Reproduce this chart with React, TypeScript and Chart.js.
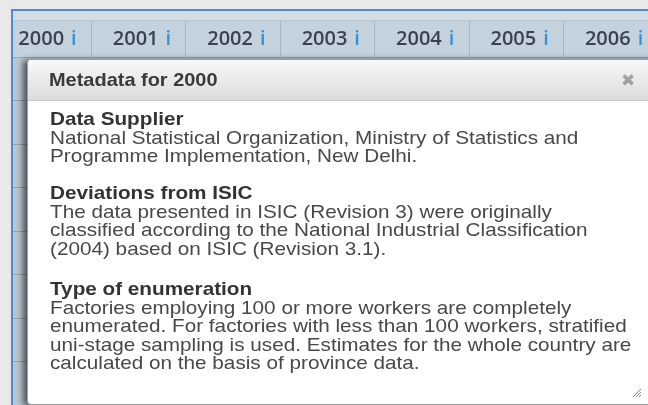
import React, { useEffect, useRef } from "react";
import { Chart, registerables } from "chart.js";

Chart.register(...registerables);

// ---- data ----
const years = ["2000", "2001", "2002", "2003", "2004", "2005", "2006"];
const infoMark = "i";
const rowCount = 8;
const rowValues: (number | null)[] = [null, null, null, null, null, null, null];
const popupTitle = "Metadata for 2000";
const closeMark = "\u2716";
const sectionHeadings = ["Data Supplier", "Deviations from ISIC", "Type of enumeration"];
const supplierLines = [
  "National Statistical Organization, Ministry of Statistics and",
  "Programme Implementation, New Delhi.",
];
const deviationLines = [
  "The data presented in ISIC (Revision 3) were originally",
  "classified according to the National Industrial Classification",
  "(2004) based on ISIC (Revision 3.1).",
];
const enumerationLines = [
  "Factories employing 100 or more workers are completely",
  "enumerated. For factories with less than 100 workers, stratified",
  "uni-stage sampling is used. Estimates for the whole country are",
  "calculated on the basis of province data.",
];
const sectionLines = [supplierLines, deviationLines, enumerationLines];
const sectionTops = [50, 124, 220];

const yearFont = { family: "'Open Sans'", size: 20, weight: 600 as const };
const labelShift = -3;

const headerPlugin = {
  id: "tableHeader",
  beforeDraw(chart: any) {
    const { ctx, chartArea, scales } = chart;
    const x = scales.x;
    ctx.save();
    ctx.fillStyle = "#c3d2dd";
    ctx.fillRect(0, x.top, chart.width, x.bottom - x.top);
    ctx.fillStyle = "#b8c7d2";
    ctx.fillRect(chartArea.left, chartArea.top, chartArea.right - chartArea.left, chartArea.bottom - chartArea.top);
    ctx.restore();
  },
  afterDraw(chart: any) {
    const { ctx, scales } = chart;
    const x = scales.x;
    ctx.save();
    ctx.font = `${yearFont.weight} ${yearFont.size}px ${yearFont.family}`;
    ctx.textBaseline = "middle";
    ctx.fillStyle = "#3b8fd6";
    const labels = chart.data.labels as string[];
    labels.forEach((label, i) => {
      const px = x.getPixelForTick(i) + labelShift;
      const w = ctx.measureText(label).width;
      ctx.fillText(infoMark, px + w / 2 + 7, x.bottom - 18);
    });
    ctx.restore();
  },
};

function TableChart() {
  const ref = useRef<HTMLCanvasElement>(null);
  useEffect(() => {
    const chart = new Chart(ref.current!, {
      type: "bar",
      data: {
        labels: years,
        datasets: [{ data: rowValues as any, backgroundColor: "rgba(0,0,0,0)" }],
      },
      options: {
        animation: false,
        responsive: false,
        maintainAspectRatio: false,
        layout: { padding: 0 },
        plugins: {
          legend: { display: false },
          tooltip: { enabled: false },
          title: { display: false },
        },
        scales: {
          x: {
            position: "top",
            offset: true,
            grid: {
              offset: true,
              drawOnChartArea: false,
              drawTicks: true,
              tickLength: 36,
              color: "#a7b7c2",
            },
            border: { display: true, color: "#97a8b4", width: 1 },
            ticks: {
              color: "#38454f",
              font: yearFont,
              padding: -30,
              labelOffset: labelShift,
              maxRotation: 0,
              autoSkip: false,
            },
            afterFit: (s: any) => {
              s.height = 36;
            },
          },
          y: {
            min: 0,
            max: rowCount,
            reverse: true,
            ticks: { display: false, stepSize: 1 },
            grid: { color: "#95a6b2", drawTicks: false },
            border: { display: false },
            afterFit: (s: any) => {
              s.width = 0;
            },
          },
        },
      },
      plugins: [headerPlugin],
    });
    return () => chart.destroy();
  }, []);
  return <canvas ref={ref} width={661} height={384} style={{ display: "block" }} />;
}

const textFont = "'Liberation Sans', Arial, sans-serif";

export default function App() {
  return (
    <div
      style={{
        position: "fixed",
        left: 0,
        top: 0,
        width: 648,
        height: 405,
        overflow: "hidden",
        background: "#e9e9e9",
      }}
    >
      {/* table panel */}
      <div
        style={{
          position: "absolute",
          left: 11,
          top: 9,
          width: 700,
          height: 420,
          borderTop: "2px solid #5088d2",
          borderLeft: "2px solid #5088d2",
          background: "#d3dce2",
          overflow: "hidden",
        }}
      >
        <div style={{ position: "absolute", left: 0, top: 9, width: 700, height: 1, background: "#b9c6cf" }} />
        <div style={{ position: "absolute", left: -16.4, top: 10 }}>
          <TableChart />
        </div>
      </div>

      {/* popup */}
      <div
        style={{
          position: "absolute",
          left: 27,
          top: 59,
          width: 640,
          height: 344,
          background: "#ffffff",
          border: "1px solid #9e9e9e",
          borderRadius: 4,
          boxShadow: "-4px 1px 6px rgba(0,0,0,0.6)",
          overflow: "hidden",
          fontFamily: textFont,
        }}
      >
        <div
          style={{
            position: "relative",
            height: 40,
            background: "linear-gradient(#f8f8f8, #dcdcdc)",
            borderBottom: "1px solid #c6c6c6",
          }}
        >
          <div
            style={{
              position: "absolute",
              left: 21,
              top: 0,
              lineHeight: "40px",
              fontSize: 19,
              fontWeight: "bold",
              color: "#3a3a3a",
              whiteSpace: "nowrap",
              transform: "scaleX(1.05)",
              transformOrigin: "left center",
            }}
          >
            {popupTitle}
          </div>
          <div
            style={{
              position: "absolute",
              left: 593,
              top: 0,
              lineHeight: "40px",
              fontSize: 17,
              color: "#a2a2a2",
              fontFamily: "'DejaVu Sans', sans-serif",
            }}
          >
            {closeMark}
          </div>
        </div>
        {sectionHeadings.map((h, si) => (
          <div
            key={h}
            style={{
              position: "absolute",
              left: 22,
              top: sectionTops[si],
              fontSize: 19,
              lineHeight: "18.5px",
              color: "#484848",
              whiteSpace: "nowrap",
              transform: "scaleX(1.09)",
              transformOrigin: "left top",
            }}
          >
            <div style={{ fontWeight: "bold", color: "#333" }}>{h}</div>
            {sectionLines[si].map((l) => (
              <div key={l}>{l}</div>
            ))}
          </div>
        ))}
        <svg
          width={10}
          height={10}
          style={{ position: "absolute", left: 604, top: 328 }}
        >
          <line x1={9} y1={1} x2={1} y2={9} stroke="#888" strokeWidth={1} />
          <line x1={9} y1={4} x2={4} y2={9} stroke="#888" strokeWidth={1} />
          <line x1={9} y1={7} x2={7} y2={9} stroke="#888" strokeWidth={1} />
        </svg>
      </div>
    </div>
  );
}
